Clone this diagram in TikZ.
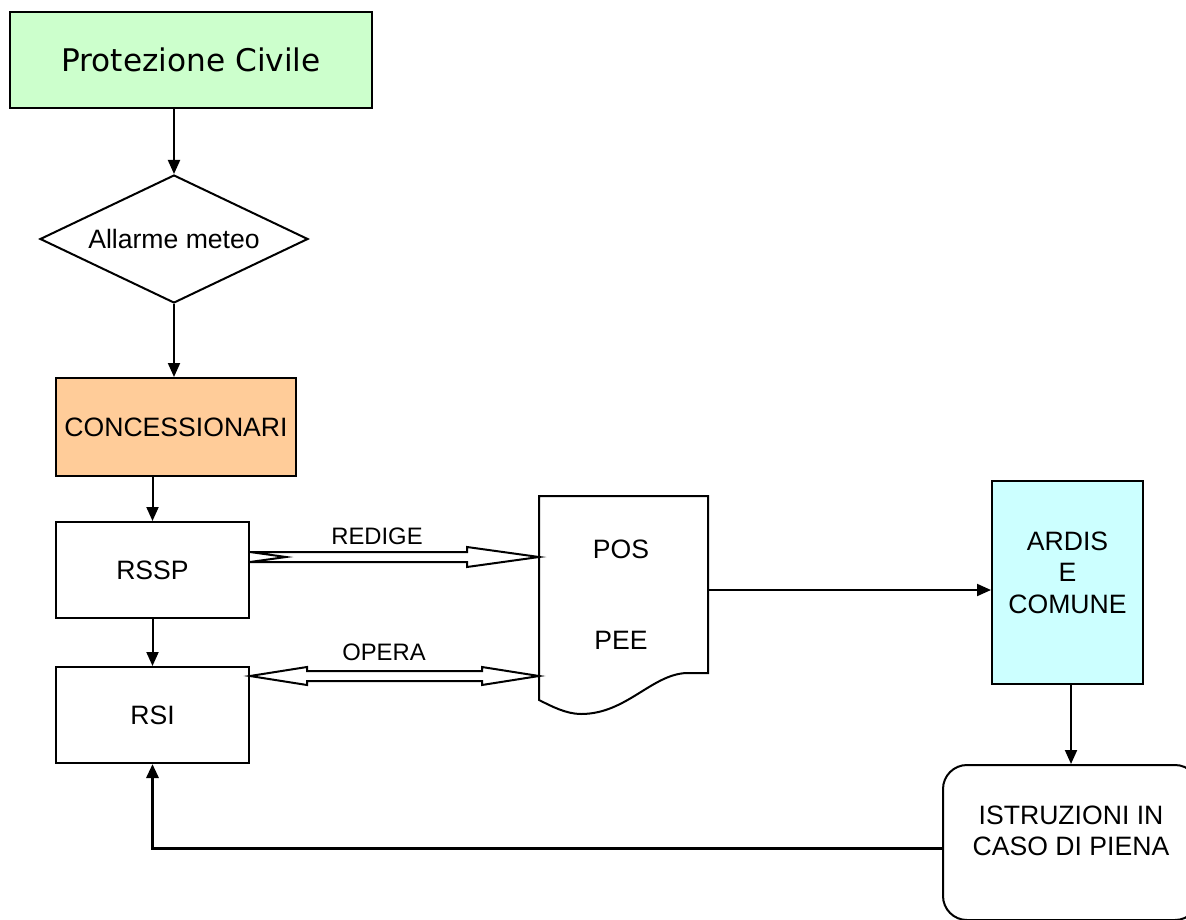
\documentclass[tikz,border=0pt]{standalone}
\usepackage{fontspec}
\setmainfont{Liberation Sans}
\newfontfamily\verdanafont{DejaVu Sans}
\usetikzlibrary{arrows.meta,shapes.geometric,calc}
\definecolor{civilegreen}{HTML}{CCFFCC}
\definecolor{concorange}{HTML}{FFCC99}
\definecolor{ardiscyan}{HTML}{CCFFFF}

\begin{document}
\begin{tikzpicture}[x=0.5pt, y=-0.5pt, line width=1pt,
  box/.style={draw, rectangle, inner sep=0pt, align=center,
    font=\fontsize{13.3}{15.7}\selectfont},
  tag/.style={inner sep=0pt, font=\fontsize{11.9}{14}\selectfont},
  link/.style={-{Triangle[length=7pt,width=6pt]}},
  fat/.style={draw, fill=white, line join=miter}]
  \useasboundingbox (0,0) rectangle (1186,919);
  \clip (0,0) rectangle (1186,919);

  % Draw the chain of boxes
  \node[box, fill=civilegreen, minimum width=181pt, minimum height=48pt,
    font=\verdanafont\fontsize{15.6}{18}\selectfont] (civile) at (191,60) {Protezione Civile};
  \node[box, diamond, shape aspect=2.1, minimum width=134pt, minimum height=64pt] (meteo) at (174,239) {Allarme meteo};
  \node[box, fill=concorange, minimum width=120pt, minimum height=49pt] (conc) at (176,427) {CONCESSIONARI};
  \node[box, minimum width=96.5pt, minimum height=48pt] (rssp) at (152.5,570) {RSSP};
  \node[box, minimum width=96.5pt, minimum height=48pt] (rsi) at (152.5,715) {RSI};

  % Draw the document
  \node[inner sep=0pt, minimum width=83.5pt, minimum height=87.5pt] (doc) at (623.5,584.5) {};
  \draw (doc.south east) -- ($(doc.south east)+(-22,0)$)
    .. controls ($(doc.south east)+(-57,2)$) and ($(doc.south east)+(-82,41)$) .. ($(doc.south east)+(-127,41)$)
    .. controls ($(doc.south east)+(-142,41)$) and ($(doc.south east)+(-157,33)$) .. ($(doc.south west)+(0,27)$)
    -- (doc.north west) -- (doc.north east) -- cycle;
  \node[box, draw=none] (pos) at (621,549) {POS};
  \node[box, draw=none] (pee) at (621,640) {PEE};

  % Draw the right column
  \node[box, fill=ardiscyan, minimum width=75.5pt, minimum height=101.5pt, text depth=10pt] (ardis) at (1067.5,582.5) {ARDIS\\E\\COMUNE};
  \node[box, rounded corners=12pt, minimum width=128pt, minimum height=77.5pt, text depth=12pt] (ist) at (1071,842.5) {ISTRUZIONI IN\\CASO DI PIENA};

  % Draw arrows
  \draw[link] (civile.south -| meteo.north) -- (meteo.north);
  \draw[link] (meteo.south) -- (meteo.south |- conc.north);
  \draw[link] (conc.south -| rssp.north) -- (rssp.north);
  \draw[link] (rssp.south) -- (rsi.north);
  \coordinate (docout) at ($(doc.east)+(0,5.5)$);
  \draw[link] (docout) -- (docout -| ardis.west);
  \draw[link] (ardis.south -| ist.north) -- (ist.north);
  \coordinate (istout) at ($(ist.west)+(0,5.5)$);
  \draw[link, line width=1.5pt] (istout) -| (rsi.south);

  % Draw hollow arrows
  \coordinate (redT) at ($(rssp.east)+(0,-13)$);
  \coordinate (redP) at (redT -| doc.west);
  \draw[fat] ($(redT)+(0,-5)$) -- ($(redP)+(-72,-5)$) -- ($(redP)+(-72,-10)$) -- (redP)
    -- ($(redP)+(-72,10)$) -- ($(redP)+(-72,5)$) -- ($(redT)+(0,5)$) -- ($(redT)+(36,0)$) -- cycle;
  \node[tag] (redige) at (377,536) {REDIGE};

  \coordinate (opL) at ($(rsi.east)+(0,-39)$);
  \coordinate (opR) at (opL -| doc.west);
  \draw[fat] (opL) -- ($(opL)+(57,-9)$) -- ($(opL)+(57,-5)$) -- ($(opR)+(-57,-5)$) -- ($(opR)+(-57,-9)$)
    -- (opR) -- ($(opR)+(-57,9)$) -- ($(opR)+(-57,5)$) -- ($(opL)+(57,5)$) -- ($(opL)+(57,9)$) -- cycle;
  \node[tag] (opera) at (384,652) {OPERA};
\end{tikzpicture}
\end{document}
